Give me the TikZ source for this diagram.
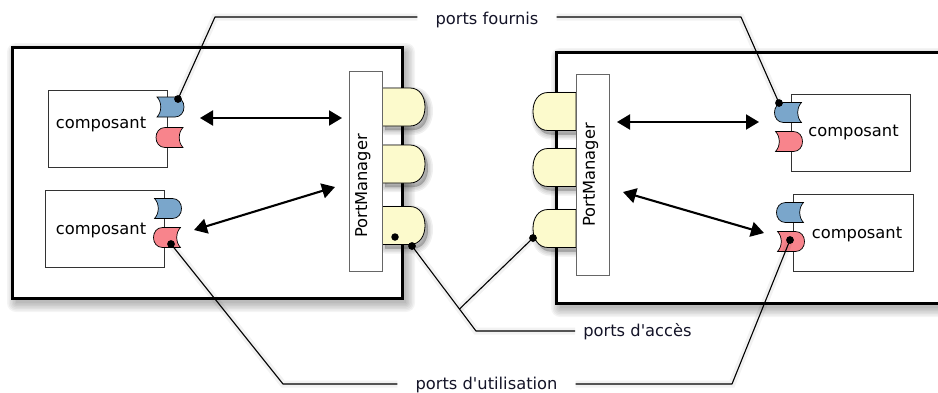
\documentclass[tikz,border=0pt]{standalone}
\usepackage{fontspec}
\setmainfont{DejaVu Sans}
\newfontfamily\dvsplain{DejaVu Sans}
\usetikzlibrary{arrows.meta}
\definecolor{pblue}{RGB}{122,166,203}
\definecolor{pred}{RGB}{248,132,140}
\definecolor{pyel}{RGB}{252,250,204}
\definecolor{lbl}{RGB}{20,20,40}
\newcommand\yelport[3]{%
  \begin{scope}[shift={(#1,#2)},xscale=#3]
    \foreach \w in {1,4,7,10}{
      \path[fill=black,draw=black,line width=\w pt,opacity=0.06,line join=round,shift={(3*#3,4)}]
        (0,-19) -- (28,-19) .. controls (38,-19) and (43,-10) .. (43,0) .. controls (43,10) and (38,19) .. (28,19) -- (0,19) -- cycle;
    }
    \draw[fill=pyel,line width=0.8pt]
      (0,-19) -- (28,-19) .. controls (38,-19) and (43,-10) .. (43,0) .. controls (43,10) and (38,19) .. (28,19) -- (0,19) -- cycle;
  \end{scope}%
}
\begin{document}
\begin{tikzpicture}[x=1pt,y=-1pt,
  font=\dvsplain\fontsize{16.3}{19}\selectfont,
  outer/.style={draw=black,line width=3pt,fill=white,inner sep=0pt},
  comp/.style={draw=black!80,line width=0.9pt,fill=white,inner sep=0pt},
  pm/.style={draw=black!60,line width=0.9pt,fill=white,inner sep=0pt},
  link/.style={line width=2.1pt,{Triangle[length=13pt,width=15pt]}-{Triangle[length=13pt,width=15pt]}},
  callout/.style={line width=1.1pt,draw=black,line join=round,
    preaction={draw=black,opacity=0.05,line width=7pt}},
  dotc/.style={circle,fill=black,inner sep=0pt,minimum size=7.5pt},
  lab/.style={text=lbl,inner ysep=0pt},
  pics/portR/.style={code={\draw[line width=0.7pt,fill=#1]
    (-13,-10) -- (5,-10) .. controls (11,-10) and (14,-5) .. (14,0)
    .. controls (14,5) and (11,10) .. (5,10) -- (-13,10)
    .. controls (-8,5) and (-8,-5) .. (-13,-10) -- cycle;}},
]
\useasboundingbox (0,0) rectangle (938,392);
\clip (0,0) rectangle (938,392);

% shadows of the two containers
\foreach \e in {0,1.5,...,9} {
  \fill[black,opacity=0.045,rounded corners=\e pt] (16-\e,52-\e) rectangle (406+\e,303+\e);
  \fill[black,opacity=0.045,rounded corners=\e pt] (560-\e,57-\e) rectangle (966+\e,308+\e);
}

% containers
\node[outer,minimum width=390pt,minimum height=251pt] (boxL) at (207,172.5) {};
\node[outer,minimum width=404pt,minimum height=251pt] (boxR) at (758,177.5) {};

% access ports
\yelport{382}{107}{1}
\yelport{382}{164}{1}
\yelport{382}{225.5}{1}
\yelport{576}{111.5}{-1}
\yelport{576}{167.5}{-1}
\yelport{576}{228.5}{-1}

% port managers
\node[pm,minimum width=33pt,minimum height=200pt] (pmL) at (365.5,171) {};
\node[pm,minimum width=33pt,minimum height=201pt] (pmR) at (592.5,174.5) {};
\node[rotate=90,inner sep=0pt] (pmLt) at (363,186) {PortManager};
\node[rotate=90,inner sep=0pt] (pmRt) at (590.5,175) {PortManager};

% components
\node[comp,minimum width=119pt,minimum height=77pt] (cL1) at (107.5,128.5) {};
\node[comp,minimum width=119pt,minimum height=77pt] (cL2) at (104.5,228.5) {};
\node[comp,minimum width=119pt,minimum height=77pt] (cR1) at (850.5,132.5) {};
\node[comp,minimum width=120pt,minimum height=77pt] (cR2) at (853,232.5) {};
\node[inner sep=0pt] (tL1) at (101,124.5) {composant};
\node[inner sep=0pt] (tL2) at (101,230) {composant};
\node[inner sep=0pt] (tR1) at (853.5,132.5) {composant};
\node[inner sep=0pt] (tR2) at (857,234) {composant};

% component ports
\pic at (170,107) {portR=pblue};
\pic[xscale=-1] at (170,137.5) {portR=pred};
\pic at (167.5,208.5) {portR=pblue};
\pic[xscale=-1] at (167.5,237.5) {portR=pred};
\pic[xscale=-1] at (788.5,112.5) {portR=pblue};
\pic at (788.5,141.5) {portR=pred};
\pic[xscale=-1] at (790.5,212.5) {portR=pblue};
\pic at (790.5,241.5) {portR=pred};

% bidirectional links
\coordinate (aL1s) at (200,118);  \coordinate (aL1e) at (342,118);
\coordinate (aL2s) at (194,230);  \coordinate (aL2e) at (335,187);
\coordinate (aR1s) at (617,122);  \coordinate (aR1e) at (759,122);
\coordinate (aR2s) at (623,192);  \coordinate (aR2e) at (764,233);
\draw[link] (aL1s) -- (aL1e);
\draw[link] (aL2s) -- (aL2e);
\draw[link] (aR1s) -- (aR1e);
\draw[link] (aR2s) -- (aR2e);

% labels
\node[lab,inner xsep=18pt] (lF) at (487,19.5) {ports fournis};
\node[lab,inner xsep=8pt] (lA) at (637.5,331.5) {ports d'accès};
\node[lab,inner xsep=18pt] (lU) at (486.5,384.5) {ports d'utilisation};

% callout dots
\node[dotc] (dF1) at (178,99) {};
\node[dotc] (dF2) at (779,103) {};
\node[dotc] (dU1) at (171,244) {};
\node[dotc] (dU2) at (790,240) {};
\node[dotc] (dA1) at (412,246) {};
\node[dotc] (dA2) at (533,238) {};

% callout lines
\coordinate (kF1) at (215,17);  \coordinate (kF2) at (741,17);
\coordinate (kA) at (476,331);  \coordinate (jA) at (459.5,309);
\coordinate (kU1) at (283,384); \coordinate (kU2) at (732,384);
\draw[callout] (dF1.center) -- (kF1) -- ([yshift=2.5pt]lF.west);
\draw[callout] ([yshift=2.5pt]lF.east) -- (kF2) -- (dF2.center);
\draw[callout] (dA1.center) -- (kA) -- ([yshift=0.5pt]lA.west);
\draw[callout] (dA2.center) -- (jA);
\draw[callout] (dU1.center) -- (kU1) -- ([yshift=0.5pt]lU.west);
\draw[callout] ([yshift=0.5pt]lU.east) -- (kU2) -- (dU2.center);

% dots on top
\foreach \d in {dF1,dF2,dU1,dU2,dA1,dA2} \fill (\d.center) circle (3.7);
\node[dotc] (dX) at (395,237) {};
\end{tikzpicture}
\end{document}
